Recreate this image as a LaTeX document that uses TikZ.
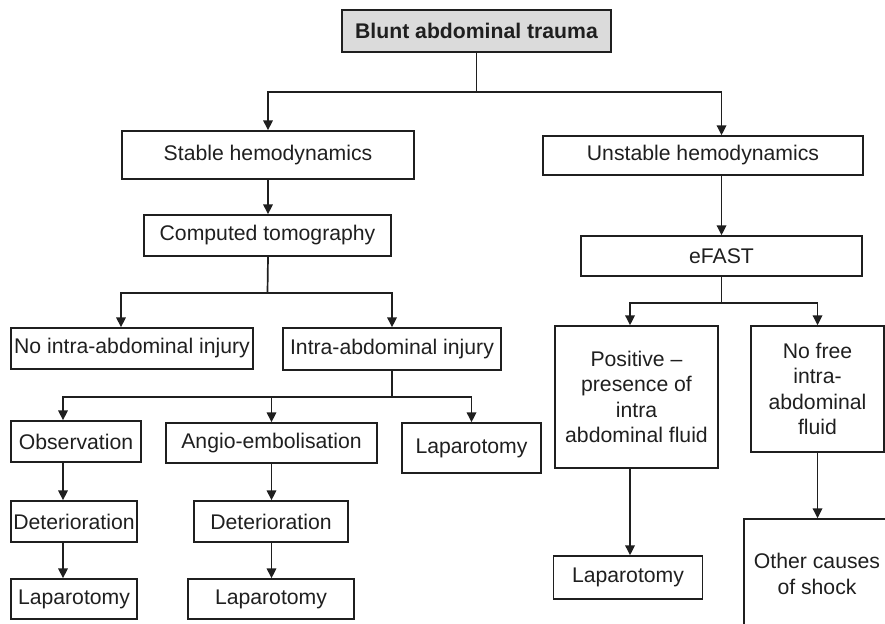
\documentclass[tikz,border=0pt]{standalone}
\usepackage{fontspec}
\setmainfont{Liberation Sans}
\usetikzlibrary{arrows.meta,calc}
\begin{document}
\begin{tikzpicture}[x=1pt,y=-1pt,
  box/.style={draw=black!88, line width=1.4pt, text=black!88, align=center,
    inner sep=0pt, font=\fontsize{21.2}{25.5}\selectfont},
  title/.style={box, fill=black!14, font=\fontsize{21.2}{25.5}\selectfont\bfseries},
  link/.style={draw=black!88, line width=1.7pt},
  arr/.style={link, -{Triangle[width=9.5pt,length=10pt]}}]
\useasboundingbox (0,0) rectangle (885,623);
\clip (0,0) rectangle (885,623);

% boxes
\node[title, minimum width=269pt, minimum height=42pt] (top) at (476.5,31) {Blunt abdominal trauma};
\node[box, minimum width=292pt, minimum height=48pt] (stable) at (268,155) {Stable hemodynamics};
\node[box, minimum width=320pt, minimum height=39pt] (unstable) at (703,155.5) {Unstable hemodynamics};
\node[box, minimum width=281pt, minimum height=40pt] (efast) at (721.5,256) {eFAST};
\node[box, minimum width=247pt, minimum height=41pt] (ct) at (267.5,235.5) {Computed tomography};
\node[box, minimum width=242pt, minimum height=41pt] (noinj) at (132,348.5) {No intra-abdominal injury};
\node[box, minimum width=218pt, minimum height=42pt] (inj) at (392,349) {Intra-abdominal injury};
\node[box, minimum width=130pt, minimum height=41pt] (obs) at (76,441.5) {Observation};
\node[box, minimum width=211pt, minimum height=40pt] (angio) at (271.5,443) {Angio-embolisation};
\node[box, minimum width=139pt, minimum height=50pt] (lapa) at (471.5,448) {Laparotomy};
\node[box, minimum width=126pt, minimum height=41pt] (det1) at (74,521.5) {Deterioration};
\node[box, minimum width=154pt, minimum height=41pt] (det2) at (271,521.5) {Deterioration};
\node[box, minimum width=126pt, minimum height=40pt] (lap1) at (74,599) {Laparotomy};
\node[box, minimum width=166pt, minimum height=40pt] (lap2) at (271,599) {Laparotomy};
\node[box, minimum width=163pt, minimum height=142pt] (pos) at (636.5,397)
  {Positive --\\presence of\\intra\\abdominal fluid};
\node[box, minimum width=133pt, minimum height=126pt] (nofree) at (817.5,389)
  {No free\\intra-\\abdominal\\fluid};
\node[box, minimum width=149pt, minimum height=43pt] (lap3) at (628,577.5) {Laparotomy};
\node[box, minimum width=146pt, minimum height=110pt] (other) at (817,574)
  {Other causes\\of shock};

% column guides for connectors that sit off the box centres
\coordinate (colobs) at (63,0);
\coordinate (colno) at (121,0);
\coordinate (colpos) at (630,0);

% junctions
\coordinate (j1) at ($(top.south)+(0,39)$);
\coordinate (j2) at ($(efast.south)+(0,26)$);
\coordinate (j3) at ($(ct.south)+(0,36)$);
\coordinate (j4) at ($(inj.south)+(0,26)$);

% connectors
\draw[link] (top.south) -- (j1);
\draw[arr] (j1) -| (stable.north);
\draw[arr] (j1) -| (efast.north |- unstable.north);
\draw[arr] (efast.north |- unstable.south) -- (efast.north);

\draw[link] (efast.south) -- (j2);
\draw[arr] (j2) -| (colpos |- pos.north);
\draw[arr] (j2) -| (nofree.north);
\draw[arr] (colpos |- pos.south) -- (colpos |- lap3.north);
\draw[arr] (nofree.south) -- (nofree.south |- other.north);

\draw[arr] (stable.south) -- (stable.south |- ct.north);
\draw[link] (stable.south |- ct.south) -- (j3);
\draw[arr] (j3) -| (colno |- noinj.north);
\draw[arr] (j3) -| (inj.north);

\draw[link] (inj.south) -- (j4);
\draw[arr] (j4) -| (colobs |- obs.north);
\draw[arr] (j4) -| (angio.north);
\draw[arr] (j4) -| (lapa.north);

\draw[arr] (colobs |- obs.south) -- (colobs |- det1.north);
\draw[arr] (colobs |- det1.south) -- (colobs |- lap1.north);
\draw[arr] (angio.south) -- (angio.south |- det2.north);
\draw[arr] (angio.south |- det2.south) -- (angio.south |- lap2.north);
\end{tikzpicture}
\end{document}
